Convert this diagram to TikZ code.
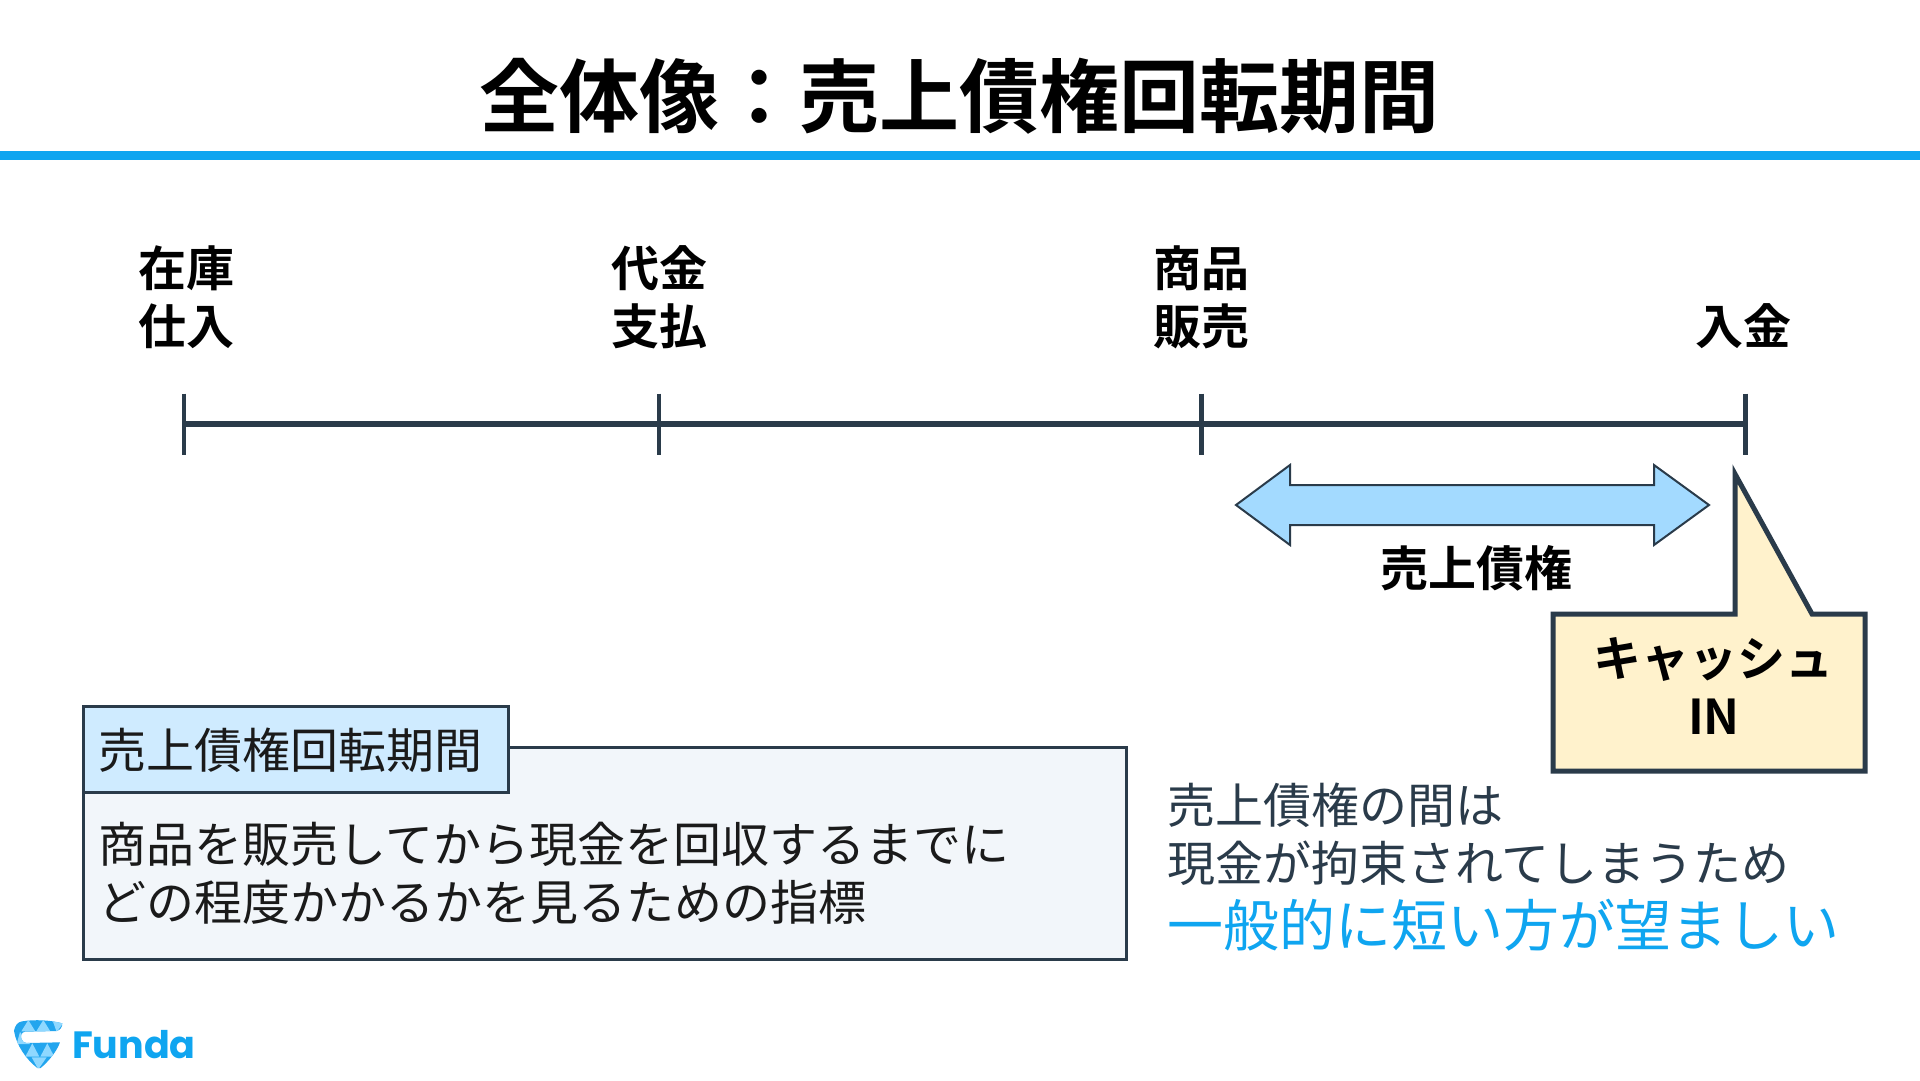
\documentclass[tikz,border=0pt]{standalone}
\usepackage{fontspec}
\setmainfont{Noto Sans CJK JP}[BoldFont={Noto Sans CJK JP Bold}]
\newfontfamily\logofont{Poppins}[BoldFont={Poppins Bold}]
\definecolor{inkline}{HTML}{2A3B4A}
\definecolor{accentblue}{HTML}{0FA5F0}
\definecolor{arrowfill}{HTML}{A3DAFF}
\definecolor{calloutfill}{HTML}{FFF2CC}
\definecolor{panelfill}{HTML}{F2F6FA}
\definecolor{tabfill}{HTML}{CFEBFF}
\definecolor{gemdark}{HTML}{22A5EE}
\definecolor{gemlight}{HTML}{8FD8FF}
\definecolor{bodyink}{HTML}{1A1A1A}
\newcommand{\fsz}[1]{\fontsize{#1}{#1}\selectfont}
\tikzset{
  lbl/.style={inner sep=0pt,outer sep=0pt,anchor=base},
  lblw/.style={inner sep=0pt,outer sep=0pt,anchor=base west},
  bigbold/.style={lbl,font=\fsz{48}\bfseries,text=black},
  bodytxt/.style={lblw,font=\fsz{48},text=bodyink},
  grytxt/.style={lblw,font=\fsz{48},text=inkline},
  tickline/.style={draw=inkline,line width=4.5pt},
  axisline/.style={draw=inkline,line width=6pt},
  boxline/.style={draw=inkline,line width=3pt},
  facet/.style={fill=gemlight},
}
\begin{document}
\begin{tikzpicture}[x=1pt,y=-1pt]
\useasboundingbox (0,0) rectangle (1920,1080);
\fill[white] (0,0) rectangle (1920,1080);
% title
\node[lbl,font=\fsz{80}\bfseries] (title) at (959.5,126) {全体像：売上債権回転期間};
\fill[accentblue] (0,151) rectangle (1920,160);
% timeline
\coordinate (t1) at (184,423.5);
\coordinate (t2) at (659,423.5);
\coordinate (t3) at (1201.5,423.5);
\coordinate (t4) at (1745.5,423.5);
\draw[axisline] (t1) -- (t2) -- (t3) -- (t4);
\foreach \c in {t1,t2,t3,t4}{
  \draw[tickline] ([yshift=30pt]\c) -- ([yshift=-31pt]\c);
}
\node[bigbold] (a1) at (186,286) {在庫};
\node[bigbold] (a2) at (186,344) {仕入};
\node[bigbold] (b1) at (659,286) {代金};
\node[bigbold] (b2) at (659,344) {支払};
\node[bigbold] (c1) at (1201,286) {商品};
\node[bigbold] (c2) at (1201,344) {販売};
\node[bigbold] (d2) at (1743,344) {入金};
% double arrow
\path[draw=inkline,line width=2pt,fill=arrowfill,line join=miter]
  (1236,505) -- (1290,465) -- (1290,485) -- (1654,485) -- (1654,465) -- (1709,505)
  -- (1654,545) -- (1654,525) -- (1290,525) -- (1290,545) -- cycle;
\node[bigbold] (ar) at (1476,586) {売上債権};
% callout
\path[draw=inkline,line width=5pt,fill=calloutfill,line join=miter,miter limit=10]
  (1553,614) -- (1735,614) -- (1735,474) -- (1812,614) -- (1865,614)
  -- (1865,771) -- (1553,771) -- cycle;
\node[bigbold] (cash) at (1713,676) {キャッシュ};
\node[bigbold] (in) at (1714,734) {IN};
% panel
\path[boxline,fill=panelfill] (83.5,747.5) rectangle (1126,959);
\path[boxline,fill=tabfill] (83,706.5) rectangle (508.5,792);
\node[bodytxt] (tab) at (98.5,768) {売上債権回転期間};
\node[bodytxt] (p1) at (98.5,862) {商品を販売してから現金を回収するまでに};
\node[bodytxt] (p2) at (98.5,920) {どの程度かかるかを見るための指標};
% right text
\node[grytxt] (r1) at (1167,823) {売上債権の間は};
\node[grytxt] (r2) at (1167,881) {現金が拘束されてしまうため};
\node[lblw,font=\fsz{56},text=accentblue] (r3) at (1167,946) {一般的に短い方が望ましい};
% logo
\begin{scope}[shift={(0,1000)},x=0.3333pt,y=-0.3333pt]
\begin{scope}
\clip (42,92) .. controls (45,78) and (52,66) .. (66,64)
  .. controls (105,58) and (150,60) .. (187,70) .. controls (187,80) and (182,90) .. (170,93)
  -- (75,95) .. controls (64,97) and (60,108) .. (65,118) .. controls (68,126) and (72,128) .. (80,129)
  -- (180,127) .. controls (170,155) and (145,185) .. (122,204)
  -- (112,204) .. controls (80,180) and (48,135) .. (42,92) -- cycle;
\fill[gemdark] (30,50) rectangle (200,210);
\fill[facet] (85,60) -- (64,94) -- (106,94) -- cycle;
\fill[facet] (130,60) -- (109,94) -- (151,94) -- cycle;
\fill[facet] (158,62) -- (195,62) -- (170,96) -- cycle;
\fill[facet] (60,96) -- (90,132) -- (50,132) -- cycle;
\fill[facet] (97,130) -- (76,170) -- (118,170) -- cycle;
\fill[facet] (142,130) -- (121,170) -- (163,170) -- cycle;
\fill[facet] (95,172) -- (140,172) -- (115,208) -- cycle;
\end{scope}
\end{scope}
\node[lblw,font=\fsz{38}\logofont\bfseries,text=accentblue] (logo) at (72,1058) {Funda};
\end{tikzpicture}
\end{document}
